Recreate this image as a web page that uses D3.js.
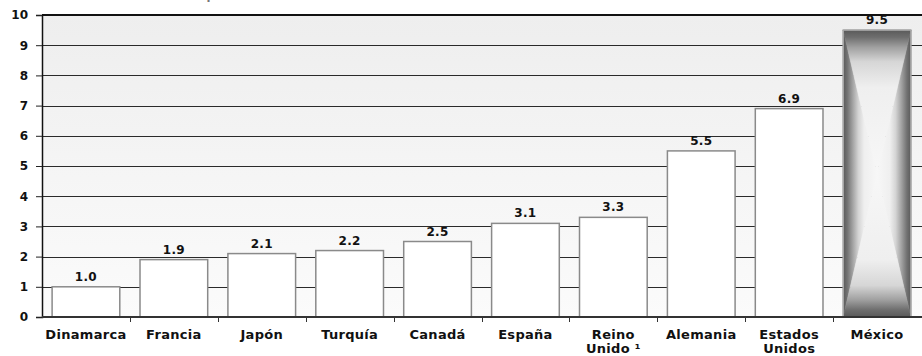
<!DOCTYPE html>
<html>
<head>
<meta charset="utf-8">
<script src="https://cdn.jsdelivr.net/npm/d3@7"></script>
<style>
  html, body { margin: 0; padding: 0; background: #ffffff; }
  svg { display: block; }
  text { font-family: "DejaVu Sans", Verdana, sans-serif; font-weight: bold; fill: #111; }
</style>
</head>
<body>
<svg id="chart" width="922" height="356"></svg>
<script>
// Countries (bottom axis); a "|" splits a label over two lines
const countries = ["Dinamarca", "Francia", "Japón", "Turquía", "Canadá", "España",
                   "Reino|Unido ¹", "Alemania", "Estados|Unidos", "México"];
const values = [1.0, 1.9, 2.1, 2.2, 2.5, 3.1, 3.3, 5.5, 6.9, 9.5];
const yTicks = [0, 1, 2, 3, 4, 5, 6, 7, 8, 9, 10];
const highlight = "México";
const title = "Tasa Comparativa en Países Seleccionados de la OCDE, año 1999";

const svg = d3.select("#chart");
const W = 922, H = 356;
const plot = { left: 42, right: 921, top: 15, bottom: 317 };

const x = d3.scaleBand().domain(countries).range([plot.left, plot.right])
  .paddingInner(0.23).paddingOuter(0.115);
const y = d3.scaleLinear().domain([0, 10]).range([plot.bottom, plot.top]);

const defs = svg.append("defs");

// Plot-area background: light grey at the top fading to near white
const bg = defs.append("linearGradient").attr("id", "bg")
  .attr("x1", 0).attr("y1", 0).attr("x2", 0).attr("y2", 1);
bg.append("stop").attr("offset", 0).attr("stop-color", "#eeeeee");
bg.append("stop").attr("offset", 1).attr("stop-color", "#fbfbfb");

// Title (runs off the top edge of the canvas)
svg.append("text")
  .attr("x", 460).attr("y", -2)
  .attr("text-anchor", "middle")
  .style("font-size", "22px").style("font-weight", "normal").style("fill", "#777")
  .text(title);

svg.append("rect")
  .attr("x", plot.left).attr("y", y(10))
  .attr("width", W - plot.left).attr("height", y(0) - y(10))
  .attr("fill", "url(#bg)");

// Horizontal gridlines
svg.append("g").selectAll("line")
  .data(yTicks.filter(d => d > 0 && d < 10))
  .join("line")
  .attr("x1", plot.left).attr("x2", W)
  .attr("y1", d => Math.round(y(d)) + 0.5).attr("y2", d => Math.round(y(d)) + 0.5)
  .attr("stroke", "#2a2a2a").attr("stroke-width", 1);

// Top border
svg.append("line")
  .attr("x1", plot.left).attr("x2", W)
  .attr("y1", y(10)).attr("y2", y(10))
  .attr("stroke", "#111").attr("stroke-width", 2);

// Plain bars
const plain = countries.map((c, i) => ({ c, v: values[i] })).filter(d => d.c !== highlight);
svg.append("g").selectAll("rect")
  .data(plain)
  .join("rect")
  .attr("x", d => x(d.c)).attr("y", d => y(d.v))
  .attr("width", x.bandwidth()).attr("height", d => y(0) - y(d.v))
  .attr("fill", "#ffffff").attr("stroke", "#8a8a8a").attr("stroke-width", 1.5);

// Highlighted bar: shaded from the centre outward (dark rim, light core)
const hi = { c: highlight, v: values[countries.indexOf(highlight)] };
const bx0 = x(hi.c), bx1 = x(hi.c) + x.bandwidth();
const by0 = y(hi.v), by1 = y(0);
const cx = (bx0 + bx1) / 2, cy = (by0 + by1) / 2;

const hStops = [[0, "#f7f7f7"], [0.38, "#efefef"], [0.55, "#d4d4d4"], [0.72, "#a2a2a2"], [0.88, "#727272"], [1, "#5a5a5a"]];
const vStops = [[0, "#f7f7f7"], [0.6, "#efefef"], [0.78, "#d6d6d6"], [0.88, "#a0a0a0"], [0.95, "#6e6e6e"], [1, "#5a5a5a"]];

function grad(id, x1, y1, x2, y2, stops) {
  const g = defs.append("linearGradient").attr("id", id)
    .attr("gradientUnits", "userSpaceOnUse")
    .attr("x1", x1).attr("y1", y1).attr("x2", x2).attr("y2", y2);
  stops.forEach(s => g.append("stop").attr("offset", s[0]).attr("stop-color", s[1]));
}
grad("gL", cx, cy, bx0, cy, hStops);
grad("gR", cx, cy, bx1, cy, hStops);
grad("gT", cx, cy, cx, by0, vStops);
grad("gB", cx, cy, cx, by1, vStops);

const hiG = svg.append("g");
const tri = [
  { id: "gL", pts: [[bx0, by0], [cx, cy], [bx0, by1]] },
  { id: "gR", pts: [[bx1, by0], [cx, cy], [bx1, by1]] },
  { id: "gT", pts: [[bx0, by0], [bx1, by0], [cx, cy]] },
  { id: "gB", pts: [[bx0, by1], [bx1, by1], [cx, cy]] }
];
hiG.selectAll("path").data(tri).join("path")
  .attr("d", d => "M" + d.pts.map(p => p.join(",")).join("L") + "Z")
  .attr("fill", d => `url(#${d.id})`)
  .attr("stroke", d => `url(#${d.id})`).attr("stroke-width", 0.6);
hiG.append("rect")
  .attr("x", bx0).attr("y", by0).attr("width", bx1 - bx0).attr("height", by1 - by0)
  .attr("fill", "none").attr("stroke", "#a8a8a8").attr("stroke-width", 1.5);

// Value labels
svg.append("g").selectAll("text")
  .data(countries.map((c, i) => ({ c, v: values[i] })))
  .join("text")
  .attr("x", d => x(d.c) + x.bandwidth() / 2)
  .attr("y", d => y(d.v) - 6)
  .attr("text-anchor", "middle")
  .style("font-size", "12px").style("letter-spacing", "0.3px")
  .text(d => d.v.toFixed(1));

// Y axis
const yAxis = svg.append("g")
  .attr("transform", `translate(${plot.left},0)`)
  .call(d3.axisLeft(y).tickValues(yTicks).tickFormat(d3.format("d")).tickSize(6).tickPadding(8));
yAxis.select(".domain").attr("stroke", "#111").attr("stroke-width", 1.5);
yAxis.selectAll(".tick line").attr("stroke", "#222");
yAxis.selectAll(".tick text")
  .style("font-size", "12px").style("font-family", "'DejaVu Sans', sans-serif")
  .style("font-weight", "bold").attr("fill", "#111");

// X axis baseline and separators between categories
const sepScale = d3.scaleLinear().domain([0, countries.length]).range([plot.left, plot.right]);
svg.append("line")
  .attr("x1", plot.left).attr("x2", W)
  .attr("y1", y(0)).attr("y2", y(0))
  .attr("stroke", "#333").attr("stroke-width", 2);
svg.append("g").selectAll("line")
  .data(d3.range(1, countries.length))
  .join("line")
  .attr("x1", d => Math.round(sepScale(d)) + 0.5).attr("x2", d => Math.round(sepScale(d)) + 0.5)
  .attr("y1", y(0)).attr("y2", y(0) + 5)
  .attr("stroke", "#333").attr("stroke-width", 1);

// Category labels
const cat = svg.append("g").selectAll("text")
  .data(countries)
  .join("text")
  .attr("x", d => x(d) + x.bandwidth() / 2)
  .attr("y", 339)
  .attr("text-anchor", "middle")
  .style("font-size", "13px").style("letter-spacing", "0.3px");
cat.each(function (d) {
  const parts = d.split("|");
  const t = d3.select(this);
  parts.forEach((p, i) => {
    t.append("tspan").attr("x", x(d) + x.bandwidth() / 2)
      .attr("dy", i === 0 ? 0 : 13.5).text(p);
  });
});
</script>
</body>
</html>
